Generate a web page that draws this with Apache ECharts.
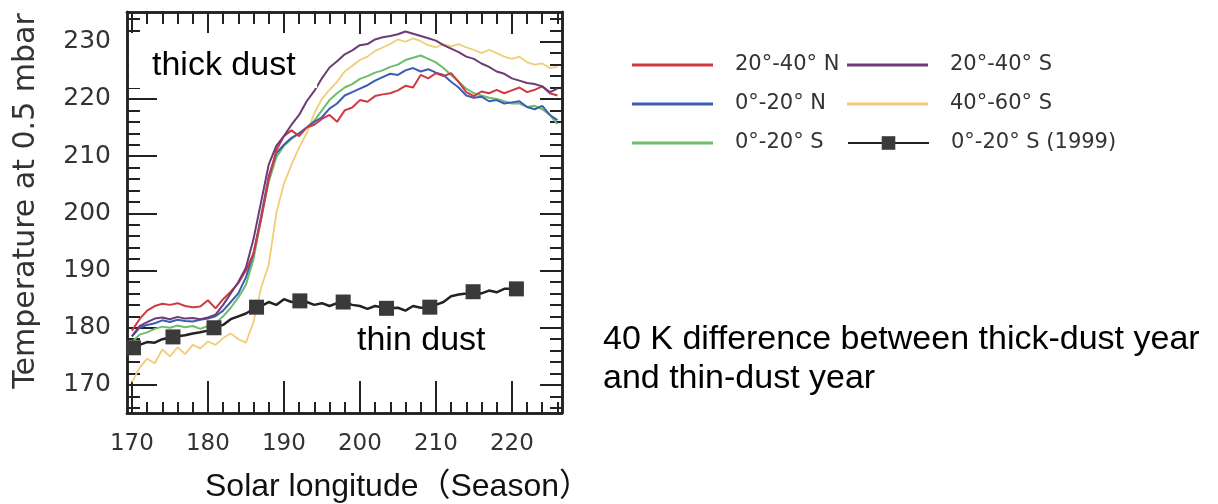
<!DOCTYPE html>
<html>
<head>
<meta charset="utf-8">
<script src="https://cdn.jsdelivr.net/npm/echarts@6/dist/echarts.min.js"></script>
<style>
  html, body { margin: 0; padding: 0; background: #fff; }
  #chart { width: 1218px; height: 504px; }
</style>
</head>
<body>
<div id="chart"></div>
<script>
// Solar longitude (deg), one sample per degree
const lon = [170,171,172,173,174,175,176,177,178,179,180,181,182,183,184,185,186,187,188,189,
             190,191,192,193,194,195,196,197,198,199,200,201,202,203,204,205,206,207,208,209,
             210,211,212,213,214,215,216,217,218,219,220,221,222,223,224,225,226];

// Temperature at 0.5 mbar (K), thick-dust year, by latitude band
const tN20_40 = [179.5,181.5,183,183.8,184.2,184,184.3,183.8,183.6,183.7,184.8,183.4,185,186.3,187.8,190,193,199,206,211,
                 213.5,214.5,213.5,215,215.5,216.5,217.2,216,218,218.5,219.8,219.5,220.5,220.8,221,221.5,222.3,222,224.2,223.6,
                 224.5,224,224.5,223,221.2,220.5,221.3,221,221.6,221,221.5,222,221.2,221.6,222.2,221,220.6];
const tN0_20  = [178.5,180,180.5,180.8,181.3,181,181.4,181.2,181.1,181.4,181.6,182,183,184.5,186,188.8,193,199.5,206.5,210.5,
                 212,213.2,214,215,216,216.8,218.3,219.2,220.6,221.2,221.8,222.4,223.2,223.8,224.4,224.2,225,225.4,224.8,225.2,
                 224.6,224.2,223,222,220.6,220.2,220.4,219.6,219.8,219.2,219.4,219.6,218.6,218.2,218.8,217.2,216.3];
const tS0_20  = [177.5,178.8,179.2,179.8,180.2,180,180.4,180.1,180.3,179.8,180.3,180.8,182,183.5,185.3,187.5,192,199,205.5,209.8,
                 211.8,213,214,215,216.2,218,219.8,221,222,222.6,223.5,224,224.6,225,225.6,226,226.8,227.2,227.6,227,
                 226.4,225.4,224.2,223,221.8,221,220.6,220.2,220,219.6,219.2,219.2,218.6,218.8,218.2,217.2,215.6];
const tS20_40 = [178.5,180.3,181,181.6,181.8,181.5,181.9,181.6,181.7,181.5,181.8,182.3,184,186,188,190.5,195.5,202,208.5,211.8,
                 213.5,215.5,217.2,219.6,221.4,223.6,225.5,226.6,227.8,228.5,229.4,229.6,230.4,230.8,231,231.3,231.8,231.4,231,230.6,
                 230.2,229.4,228.8,228.2,227.4,227,226.2,225.6,224.8,224.4,223.6,223.2,222.8,222.6,222.2,221.2,221.8];
const tS40_60 = [170.5,173,174.6,173.8,176.2,175,176.6,175.4,177,176.4,177.6,177,178.2,179,178,177.4,181,187,191,200,
                 205.2,208.5,211.5,214,217.5,220,221.6,223,224.8,225.8,226.8,227.4,228.4,229,229.6,230.4,230,230.6,230.1,229.4,
                 229,229.6,229.2,229.6,229,228.6,228,228.6,228,227.4,227,227.4,226.4,226,226.2,225.4,225.6];

// Thin-dust year (1999), 0-20 S
const lon1999  = [170.2,171,172,173,174,175.4,176,177,178,179,180,180.8,182,183,184,185,186.4,187,188,189,190,191,192.1,
                  193,194,195,196,197,197.8,199,200,201,202,203.5,205,206,207,208,209.2,210,211,212,213,214,214.9,
                  216,217,218,219,220.6];
const temp1999 = [176.5,177,177.5,177.4,178,178.4,178.5,178.7,179,179.2,179.5,180,180.5,181.5,182,182.5,183.6,183.8,184.5,184,185,184.5,184.7,
                  184.5,184,184.3,183.8,184.3,184.5,184,183.8,183.3,183.8,183.4,183.5,183,183.8,183.5,183.6,184,184.5,185.5,185.8,186,186.3,
                  186,186.5,186.2,186.8,186.8];
const marker1999 = [170.2,175.4,180.8,186.4,192.1,197.8,203.5,209.2,214.9,220.6];

// Axis ticks
const xMajor = [170,180,190,200,210,220];
const xMinor = [170,172,174,176,178,180,182,184,186,188,190,192,194,196,198,200,202,204,206,208,210,212,214,216,218,220,222,224,226];
const yMajor = [170,180,190,200,210,220,230];
const yMinor = [166,168,170,172,174,176,178,180,182,184,186,188,190,192,194,196,198,200,202,204,206,208,210,212,214,216,218,220,222,224,226,228,230,232,234];

const X_MIN = 169.35, X_MAX = 226.6, Y_MIN = 165.1, Y_MAX = 235.2;
const INK = '#222';
const FIG_FONT = '"DejaVu Sans", sans-serif';
const TXT_FONT = '"Liberation Sans", Arial, "Noto Sans CJK JP", sans-serif';

function pairs(xs, ys) { return xs.map((x, i) => [x, ys[i]]); }

function frameAxis(position, min, max, ticks, len, labels, labelStyle) {
  return {
    type: 'value', position, min, max,
    axisLine: { show: true, onZero: false, lineStyle: { color: INK, width: 2.5 } },
    axisTick: { show: true, inside: true, length: len, customValues: ticks, lineStyle: { color: INK, width: 2 } },
    axisLabel: labels ? Object.assign({ show: true, customValues: ticks }, labelStyle) : { show: false },
    splitLine: { show: false }
  };
}

const xLabelStyle = { fontFamily: FIG_FONT, fontSize: 23, color: '#333', margin: 20 };
const yLabelStyle = { fontFamily: FIG_FONT, fontSize: 25, color: '#333', margin: 16 };

const bandLine = (name, color, data, width) => ({
  name, type: 'line', data: pairs(lon, data), symbol: 'none', color,
  lineStyle: { color, width: width || 2 }, z: 3
});

const series1999 = {
  name: '0°-20° S (1999)', type: 'line', symbol: 'rect', symbolSize: 15, showAllSymbol: true,
  color: '#3a3a3a', itemStyle: { color: '#3a3a3a' },
  lineStyle: { color: INK, width: 2.5 }, z: 5,
  data: lon1999.map((x, i) => marker1999.includes(x)
    ? { value: [x, temp1999[i]] }
    : { value: [x, temp1999[i]], symbol: 'none' })
};

const legendText = { fontFamily: FIG_FONT, fontSize: 21, color: '#333', lineHeight: 22, padding: [0, 0, 0, 17] };

const chart = echarts.init(document.getElementById('chart'), null, { renderer: 'canvas' });
chart.setOption({
  animation: false,
  backgroundColor: '#fff',
  grid: { left: 127, right: 1218 - 562, top: 12, bottom: 504 - 413, containLabel: false },
  xAxis: [
    frameAxis('bottom', X_MIN, X_MAX, xMajor, 32, true, xLabelStyle),
    frameAxis('bottom', X_MIN, X_MAX, xMinor, 11, false),
    frameAxis('top', X_MIN, X_MAX, xMajor, 22, false),
    frameAxis('top', X_MIN, X_MAX, xMinor, 12, false)
  ],
  yAxis: [
    frameAxis('left', Y_MIN, Y_MAX, yMajor, 30, true, yLabelStyle),
    frameAxis('left', Y_MIN, Y_MAX, yMinor, 13, false),
    frameAxis('right', Y_MIN, Y_MAX, yMajor, 22, false),
    frameAxis('right', Y_MIN, Y_MAX, yMinor, 12, false)
  ],
  legend: [
    { data: ['20°-40° N', '0°-20° N', '0°-20° S'], orient: 'vertical', left: 627, top: 49,
      icon: 'rect', itemWidth: 81, itemHeight: 3, itemGap: 17, textStyle: legendText, selectedMode: false },
    { data: ['20°-40° S', '40°-60° S'], orient: 'vertical', left: 842, top: 49,
      icon: 'rect', itemWidth: 81, itemHeight: 3, itemGap: 17, textStyle: legendText, selectedMode: false },
    { data: ['0°-20° S (1999)'], orient: 'vertical', left: 842, top: 127,
      itemWidth: 81, itemHeight: 17, textStyle: legendText, selectedMode: false }
  ],
  series: [
    bandLine('40°-60° S', '#f2cd78', tS40_60, 1.8),
    bandLine('0°-20° S', '#6cbd6c', tS0_20),
    bandLine('0°-20° N', '#3d5db3', tN0_20),
    bandLine('20°-40° N', '#cf3a42', tN20_40),
    bandLine('20°-40° S', '#6e3b76', tS20_40),
    series1999
  ],
  graphic: [
    { type: 'text', x: 26, y: 201, rotation: Math.PI / 2, z: 10,
      style: { text: 'Temperature at 0.5 mbar', font: '30px ' + FIG_FONT, fill: '#333', align: 'center', verticalAlign: 'middle' } },
    { type: 'text', x: 398, y: 487, z: 10,
      style: { text: 'Solar longitude（Season）', font: '32px ' + TXT_FONT, fill: '#111', align: 'center', verticalAlign: 'middle' } },
    { type: 'rect', shape: { x: 129, y: 33, width: 188, height: 55 }, z: 20, style: { fill: '#fff' } },
    { type: 'text', x: 152, y: 66, z: 21,
      style: { text: 'thick dust', font: '34px ' + TXT_FONT, fill: '#000', align: 'left', verticalAlign: 'middle' } },
    { type: 'text', x: 357, y: 341, z: 21,
      style: { text: 'thin dust', font: '34px ' + TXT_FONT, fill: '#000', align: 'left', verticalAlign: 'middle' } },
    { type: 'text', x: 603, y: 340, z: 21,
      style: { text: '40 K difference between thick-dust year', font: '34px ' + TXT_FONT, fill: '#000', align: 'left', verticalAlign: 'middle' } },
    { type: 'text', x: 603, y: 379, z: 21,
      style: { text: 'and thin-dust year', font: '34px ' + TXT_FONT, fill: '#000', align: 'left', verticalAlign: 'middle' } }
  ]
});
</script>
</body>
</html>
